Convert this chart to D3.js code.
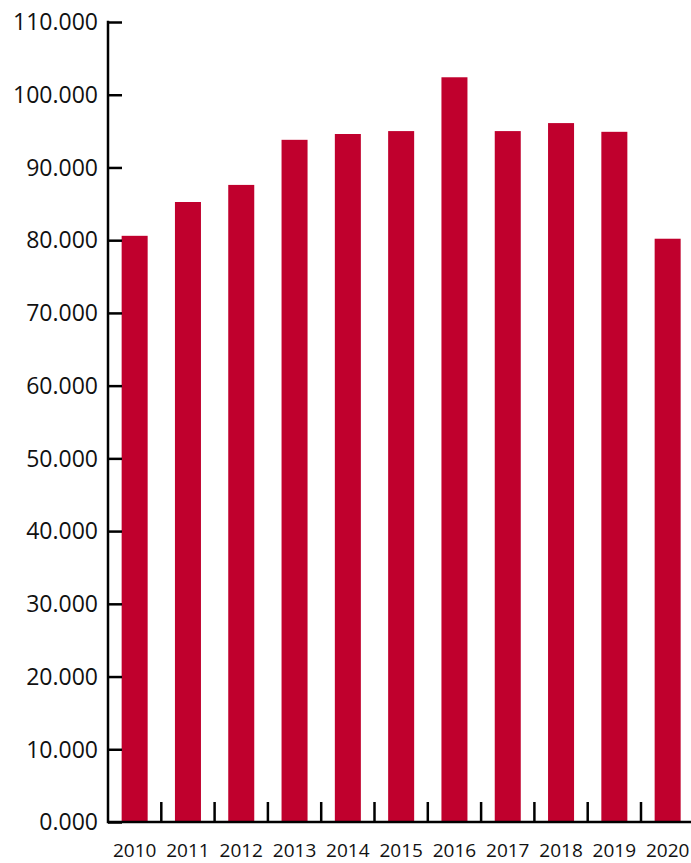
<!DOCTYPE html>
<html><head><meta charset="utf-8">
<script src="https://cdn.jsdelivr.net/npm/d3@7"></script>
<style>body{margin:0;background:#fff}svg{display:block}</style>
</head><body>
<svg id="c" width="691" height="863"></svg>
<script>
const years = ["2010","2011","2012","2013","2014","2015","2016","2017","2018","2019","2020"];
const values = [80600, 85250, 87600, 93800, 94600, 95000, 102400, 95000, 96100, 94900, 80200];
const yTicks = [0,10000,20000,30000,40000,50000,60000,70000,80000,90000,100000,110000];

const svg = d3.select("#c");
const x0 = 108, x1 = 694.3, yB = 822, yT = 22;
const x = d3.scaleBand().domain(years).range([x0, x1]).paddingInner(0.512).paddingOuter(0.256);
const y = d3.scaleLinear().domain([0,110000]).range([yB, yT]);
const label = v => (v/1000).toFixed(3);

svg.selectAll("rect.bar").data(years).join("rect")
  .attr("class","bar")
  .attr("x", d => x(d)).attr("width", x.bandwidth())
  .attr("y", (d,i) => y(values[i])).attr("height", (d,i) => yB - y(values[i]))
  .attr("fill", "#C0002D");

// Y axis
const ya = svg.append("g").attr("transform", `translate(${x0},0)`)
  .call(d3.axisRight(y).tickValues(yTicks).tickSize(14).tickFormat(""));
ya.select(".domain").remove();
ya.selectAll(".tick line").attr("stroke","#000").attr("stroke-width",2.5);
svg.append("line").attr("x1",x0).attr("x2",x0).attr("y1",yT-1.2).attr("y2",yB+1.2)
  .attr("stroke","#000").attr("stroke-width",2.5);
svg.selectAll("text.yl").data(yTicks).join("text").attr("class","yl")
  .attr("x", 98).attr("y", d => y(d)).attr("dy","0.36em")
  .attr("text-anchor","end").attr("font-family","'Open Sans', sans-serif")
  .attr("font-size", 23).attr("fill","#111").text(d => label(d));

// X axis
svg.append("line").attr("x1",x0).attr("x2",691).attr("y1",yB).attr("y2",yB)
  .attr("stroke","#000").attr("stroke-width",2.5);
const step = x.step();
const bounds = years.slice(1).map(d => x(d) - x.paddingInner()*step/2);
svg.selectAll("line.xt").data(bounds).join("line").attr("class","xt")
  .attr("x1", d=>d).attr("x2", d=>d).attr("y1", yB).attr("y2", yB-20)
  .attr("stroke","#000").attr("stroke-width",2.5);
svg.selectAll("text.xl").data(years).join("text").attr("class","xl")
  .attr("x", (d,i) => Math.min(x(d) + x.bandwidth()/2, 668)).attr("y", 850).attr("dy","0.35em")
  .attr("text-anchor","middle").attr("font-family","'Open Sans', sans-serif")
  .attr("font-size", 19).attr("fill","#111").text(d => d);
</script>
</body></html>
